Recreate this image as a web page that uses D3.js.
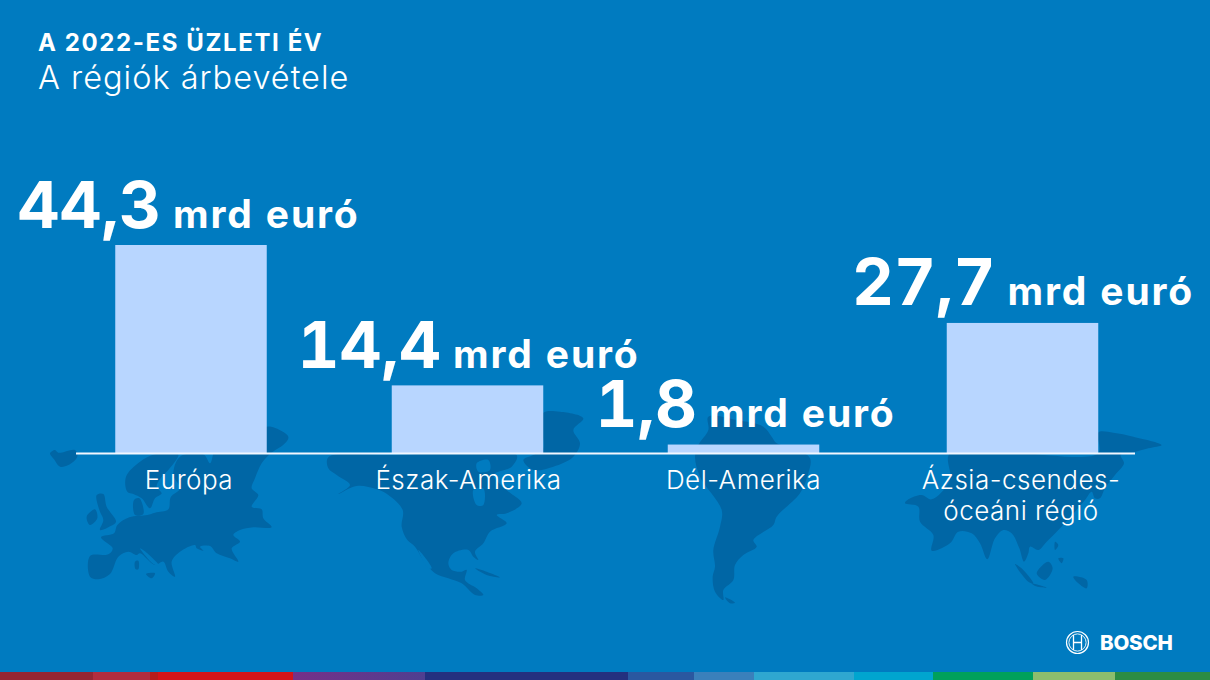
<!DOCTYPE html>
<html><head><meta charset="utf-8">
<script src="https://cdn.jsdelivr.net/npm/d3@7/dist/d3.min.js"></script>
<style>html,body{margin:0;padding:0;background:#007bc0;overflow:hidden}svg{display:block}text{font-family:Inter,"Noto Sans",sans-serif;fill:#fff}.num{font-feature-settings:"tnum";font-variant-numeric:tabular-nums}</style>
</head><body><svg id="c" width="1210" height="680"></svg>
<script>
const categories=[["Európa"],["Észak-Amerika"],["Dél-Amerika"],["Ázsia-csendes-","óceáni régió"]];
const values=[44.3,14.4,1.8,27.7];
const valueLabels=["44,3","14,4","1,8","27,7"];
const unitLabel="mrd euró";
const title="A 2022-ES ÜZLETI ÉV";
const subtitle="A régiók árbevétele";
const brand="BOSCH";
const stripe=[[0,93,"#952532"],[93,150,"#b22d3e"],[150,158,"#b81c1c"],[158,293,"#d5141a"],[293,425,"url(#pg)"],[425,628,"#24307f"],[628,694,"#2a58a0"],[694,754,"#3a80bb"],[754,854,"#2fa7d0"],[854,933,"#00a5cf"],[933,1033,"#00a05c"],[1033,1115,"#8cbd6d"],[1115,1210,"#2c8c43"]];
const land=[
 {o:[40,420],d:[
 "M150,408L205,403L218,385L183,352L222,340L232,315L268,292L322,285L345,278L385,268L392,232L420,205L400,165L420,110L490,103L510,130L520,100L530,60L600,50L680,20L700,22L745,50L735,70L690,102L665,130L645,175L635,205L655,225L635,260L665,268L670,295L695,322L640,322L600,330L580,345L600,365L575,385L595,425L570,415L530,400L510,378L480,380L490,392L470,385L465,375L420,395L395,425L405,470L385,455L370,425L345,435L300,400L290,405L265,395L235,410L210,462L175,478L150,470Z",
 "M262,215L258,170L300,125L345,103L415,103L385,150L365,170L350,200L365,220L345,235L330,265L305,235L280,222Z",
 "M282,240L298,235L310,282L285,285Z",
 "M170,225L190,222L200,260L228,305L212,318L180,330L190,300L178,270Z",
 "M140,290L165,268L172,295L150,315Z",
 "M30,100L45,90L55,98L105,90L112,110L85,135L60,140L42,118Z",
 "M285,425L295,422L295,448L287,448Z","M318,462L345,460L335,475Z"]},
 {o:[320,400],d:[
 "M25,172L216,165L590,165L575,200L520,225L560,270L605,310L560,340L530,345L560,370L510,395L490,430L465,455L475,480L460,470L445,450L400,460L385,490L395,510L425,515L440,510L435,540L470,565L490,585L465,585L425,550L385,535L345,520L310,480L285,440L262,420L245,380L248,330L205,285L170,268L110,258L55,282L90,255L50,225L25,205Z",
 "M668,40L720,35L790,55L760,90L780,130L760,170L700,200L640,210L610,180L640,165L668,150Z",
 "M465,505L500,515L540,532L500,525Z"]},
 {o:[680,410],d:[
 "M85,20L170,30L250,50L275,80L290,100L340,115L390,145L385,190L360,250L290,320L280,345L220,390L230,410L190,435L165,465L160,510L130,540L130,570L105,545L98,500L105,470L100,420L120,350L125,300L60,200L45,140L55,105L85,60Z",
 "M135,562L165,578L150,580Z"]},
 {o:[900,420],d:[
 "M150,100L594,100L594,38L640,38L700,50L785,75L745,85L690,100L662,105L672,130L645,165L615,205L600,235L585,235L575,215L555,240L525,275L475,330L440,365L415,390L390,380L385,400L372,425L358,385L335,340L310,330L285,355L262,418L240,370L215,340L175,335L150,370L95,392L100,345L60,305L55,260L15,250L25,238L65,225L95,238L150,180Z",
 "M345,432L370,450L400,490L385,485Z","M410,460L445,425L458,445L435,480Z","M395,490L440,503L405,498Z","M475,415L490,415L485,430Z","M465,365L475,375L465,390Z","M520,470L560,480L560,505L535,490Z"]}
];
const holes=[
 {o:[320,400],d:["M470,190L505,180L510,210L475,215Z","M460,270L490,265L490,315L470,315Z","M295,450L305,460L335,505L325,505Z"]},
 {o:[40,420],d:["M300,385L322,400L358,438L340,432Z"]}
];
const svg=d3.select("#c");
const W=1210,H=680,BG="#007bc0",BAR="#b8d6ff",LAND="#0066a5";
const defs=svg.append("defs");
const pg=defs.append("linearGradient").attr("id","pg");
pg.append("stop").attr("offset",0).attr("stop-color","#763088");
pg.append("stop").attr("offset",1).attr("stop-color","#4f3f90");
svg.append("rect").attr("width",W).attr("height",H).attr("fill",BG);
const blob=d3.line().curve(d3.curveCatmullRomClosed.alpha(.5));
const toPts=s=>s.replace(/[MZ]/g,"").split("L").map(p=>p.split(",").map(Number));
const drawShapes=(list,fill)=>list.forEach(s=>{
 svg.append("g").attr("transform",`translate(${s.o[0]},${s.o[1]}) scale(${1/3})`).attr("fill",fill)
  .selectAll("path").data(s.d).join("path").attr("d",d=>blob(toPts(d)));
});
drawShapes(land,LAND);
drawShapes(holes,BG);
svg.append("g").selectAll("rect").data(stripe).join("rect")
 .attr("x",d=>d[0]).attr("y",672).attr("width",d=>d[1]-d[0]).attr("height",8).attr("fill",d=>d[2]);

const idx=d3.range(values.length);
const x=d3.scaleOrdinal().domain(idx).range([191,467.5,743.5,1022.5]);
const xValue=d3.scaleOrdinal().domain(idx).range([188.5,468.5,745.5,1023]);
const xCat=d3.scaleOrdinal().domain(idx).range([189,468.5,743.5,1021]);
const baseY=453,barW=151.5;
const y=d3.scaleLinear().domain([0,44.3]).range([baseY,245]);
svg.append("g").selectAll("rect").data(values).join("rect")
 .attr("x",(d,i)=>x(i)-barW/2).attr("width",barW)
 .attr("y",d=>y(d)).attr("height",d=>baseY-y(d)).attr("fill",BAR);
svg.append("line").attr("x1",76).attr("x2",1135).attr("y1",baseY+.5).attr("y2",baseY+.5).attr("stroke","#f2f7ff").attr("stroke-width",2);

const vl=svg.append("g").selectAll("text").data(values).join("text")
 .attr("class","num").attr("text-anchor","middle").attr("x",(d,i)=>xValue(i)).attr("y",d=>y(d)-17.5);
vl.append("tspan").attr("font-size",65).attr("font-weight",700).text((d,i)=>valueLabels[i]);
vl.append("tspan").attr("font-size",39).attr("font-weight",700).attr("dx",12).attr("letter-spacing",1.8).text(unitLabel);

svg.append("g").selectAll("text").data(categories).join("text")
 .attr("text-anchor","middle").attr("font-size",26).attr("font-weight",300).attr("letter-spacing",.5)
 .each(function(lines,i){
  d3.select(this).selectAll("tspan").data(lines).join("tspan")
   .attr("x",xCat(i)).attr("y",(l,j)=>488.5+j*31.5).text(l=>l);
 });

svg.append("text").attr("x",38).attr("y",50.5).attr("font-size",24).attr("font-weight",700).attr("letter-spacing",1.6).text(title);
svg.append("text").attr("x",38).attr("y",89).attr("font-size",32.5).attr("font-weight",300).attr("letter-spacing",1).text(subtitle);

const logo=svg.append("g").attr("transform","translate(1077.5,642.5)").attr("fill","none").attr("stroke","#fff");
logo.append("circle").attr("r",11).attr("stroke-width",1.2);
logo.append("circle").attr("r",8.6).attr("stroke-width",.9);
logo.append("path").attr("d","M-4,-7.5V7.5M4,-7.5V7.5M-4,0H4").attr("stroke-width",1.3);
svg.append("text").attr("x",1100).attr("y",650).attr("font-size",20.5).attr("font-weight",800).attr("letter-spacing",-.2).text(brand);
</script></body></html>
